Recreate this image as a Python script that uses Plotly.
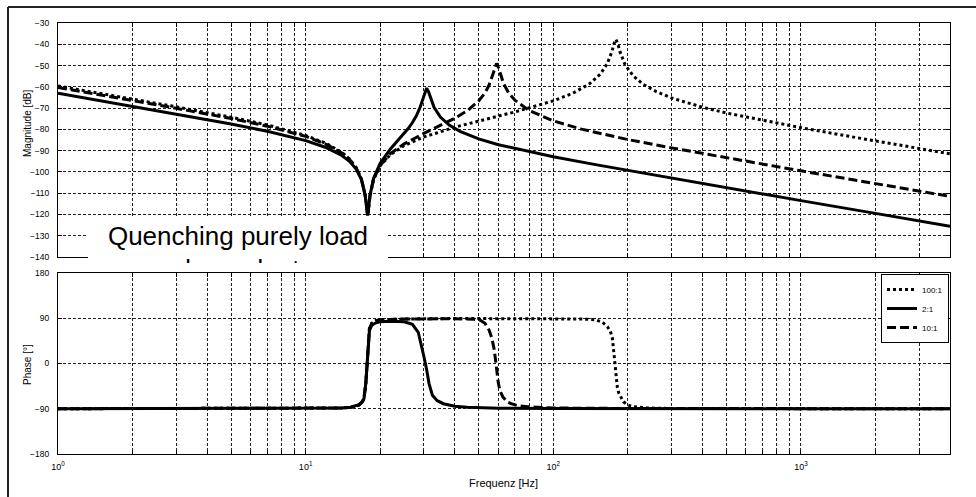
import math
import plotly.graph_objects as go

# ---------------- data ----------------
# Magnitude, ratio 100:1 (dotted)
f_mag_100 = [1, 2, 3, 5, 7, 10, 12, 14, 15, 16, 16.8, 17.4, 17.6, 17.8, 18.0, 18.2, 18.8, 20, 22, 25, 30,
             40, 50, 70, 100, 120, 140, 155, 165, 172, 176, 179, 182, 186, 195, 210, 230, 260, 300, 400,
             500, 700, 1000, 1500, 2000, 3000, 4000]
mag_100 = [-59.6, -65.7, -69.4, -74.3, -77.9, -82.9, -86.4, -90.8, -93.8, -97.9, -103.3, -110.9, -115.9,
           -120.5, -115.9, -111.1, -103.7, -97.1, -91.9, -87.6, -83.6, -79.0, -76.1, -71.8, -66.6, -63.0,
           -58.6, -54.0, -49.2, -43.9, -39.6, -37.7, -39.6, -43.6, -49.6, -54.8, -58.7, -62.2, -65.2, -69.6,
           -72.3, -75.8, -79.2, -82.9, -85.4, -89.0, -91.5]

# Magnitude, ratio 2:1 (solid)
f_mag_2 = [1, 2, 3, 5, 7, 10, 12, 14, 15, 16, 16.8, 17.4, 17.6, 17.8, 18.0, 18.2, 18.8, 20, 22, 23.5, 25,
           26, 27, 28, 29, 29.6, 30.2, 30.8, 31.4, 32, 33, 35, 38, 42, 50, 60, 80, 100, 150, 200, 300,
           500, 1000, 2000, 4000]
mag_2 = [-63.0, -69.1, -72.7, -77.5, -80.9, -85.3, -88.4, -92.3, -94.9, -98.7, -103.6, -111.1, -115.9,
         -120.5, -115.8, -110.9, -103.1, -95.9, -89.2, -85.4, -81.9, -79.5, -76.8, -73.6, -69.6, -66.6,
         -62.9, -60.6, -62.5, -65.6, -69.6, -74.2, -78.0, -80.9, -84.5, -87.2, -90.6, -92.9, -96.7, -99.3,
         -102.9, -107.4, -113.5, -119.5, -125.5]

# Magnitude, ratio 10:1 (dashed)
f_mag_10 = [1, 2, 3, 5, 7, 10, 12, 14, 15, 16, 16.8, 17.4, 17.6, 17.8, 18.0, 18.2, 18.8, 20, 22, 25, 30,
            35, 40, 45, 50, 53, 55, 57, 58, 59, 60, 61, 63, 66, 70, 80, 100, 130, 200, 300, 500, 1000,
            2000, 4000]
mag_10 = [-60.3, -66.4, -70.1, -74.9, -78.5, -83.3, -86.8, -91.1, -94.0, -98.1, -103.4, -111.0, -115.8,
          -120.5, -115.9, -111.0, -103.5, -96.9, -91.4, -86.8, -81.9, -78.3, -74.8, -71.2, -66.6, -62.8,
          -59.3, -54.2, -50.9, -49.0, -50.8, -53.8, -58.5, -62.8, -66.3, -71.2, -76.0, -79.9, -84.8, -88.7,
          -93.4, -99.5, -105.5, -111.5]

# Phase, ratio 100:1
f_ph_100 = [1, 10, 14, 15.2, 16.4, 16.9, 17.2, 17.5, 17.7, 17.85, 18.1, 18.5, 19.2, 20, 25, 40, 100, 130,
            148, 158, 165.5, 170, 173.3, 175.3, 177.1, 179.2, 181.5, 184, 187.2, 192, 199, 210, 240, 300,
            4000]
ph_100 = [-90, -89.5, -88.5, -87, -83, -77, -70, -40, 0, 42, 70, 80, 85, 87, 88.5, 89.5, 89.5, 88.5, 87,
          82, 73, 64, 50, 25, -6, -30, -48, -59, -67, -76, -82, -86, -88.5, -89.5, -90]

# Phase, ratio 2:1
f_ph_2 = [1, 10, 14, 15.2, 16.4, 16.9, 17.2, 17.5, 17.7, 17.85, 18.1, 18.5, 19.2, 20, 22, 25, 27, 28.5,
          29.2, 30, 30.8, 31.5, 32.5, 34, 36, 40, 45, 60, 100, 4000]
ph_2 = [-90, -89.5, -88.5, -87, -82, -76, -70, -39, 0, 40, 66, 76, 81, 83, 84, 83, 78, 62, 42, 15, -12,
        -40, -63, -74, -80, -85, -87, -89, -89.5, -90]

# Phase, ratio 10:1
f_ph_10 = [1, 10, 14, 15.2, 16.4, 16.9, 17.2, 17.5, 17.7, 17.85, 18.1, 18.5, 19.2, 20, 25, 40, 48, 50.7,
           53, 55.1, 56.5, 57.8, 58.8, 60, 61, 62.5, 65, 67.6, 72, 78.9, 100, 200, 4000]
ph_10 = [-90, -89.5, -88.5, -87, -83, -77, -70, -40, 0, 42, 70, 80, 85, 87, 88.5, 89, 88, 86, 80, 66, 50,
         27, -6, -39, -55, -66, -76, -80, -84, -86, -88.5, -89.5, -90]

series_names = ["100:1", "2:1", "10:1"]

# axis ticks
x_major_vals = [1, 10, 100, 1000]
x_major_text = ["10<sup>0</sup>", "10<sup>1</sup>", "10<sup>2</sup>", "10<sup>3</sup>"]
x_minor_vals = [2, 3, 4, 5, 6, 7, 8, 9,
                20, 30, 40, 50, 60, 70, 80, 90,
                200, 300, 400, 500, 600, 700, 800, 900,
                2000, 3000]
mag_ticks = [-140, -130, -120, -110, -100, -90, -80, -70, -60, -50, -40, -30]
phase_ticks = [-180, -90, 0, 90, 180]

# ---------------- layout geometry (pixels) ----------------
W, H = 976, 497
L, R, T, B = 58, 950, 23, 454


def px_x(px):
    return (px - L) / (R - L)


def px_y(py):
    return (B - py) / (B - T)


FONT = "Liberation Sans, Arial, sans-serif"

styles = {
    "100:1": dict(color="black", width=3, dash="3px,3px"),
    "2:1": dict(color="black", width=3, dash="solid"),
    "10:1": dict(color="black", width=3, dash="9px,4px"),
}

fig = go.Figure()

mag_sets = [(f_mag_100, mag_100), (f_mag_2, mag_2), (f_mag_10, mag_10)]
ph_sets = [(f_ph_100, ph_100), (f_ph_2, ph_2), (f_ph_10, ph_10)]

for name, (fx, fy) in zip(series_names, mag_sets):
    fig.add_trace(go.Scatter(x=fx, y=fy, mode="lines", name=name, legendgroup=name,
                             line=styles[name], xaxis="x", yaxis="y", hoverinfo="skip"))
for name, (fx, fy) in zip(series_names, ph_sets):
    fig.add_trace(go.Scatter(x=fx, y=fy, mode="lines", name=name, legendgroup=name, showlegend=False,
                             line=styles[name], xaxis="x2", yaxis="y2", hoverinfo="skip"))

# overlay subplot (x3/y3, pixel-like units: y = 263 - py) holding the text box
box_x = [0, 1, 1, 0, 0]
box_y = [7, 7, 46, 46, 7]
fig.add_trace(go.Scatter(x=box_x, y=box_y, mode="lines", fill="toself", fillcolor="white",
                         line=dict(width=0, color="white"), xaxis="x3", yaxis="y3",
                         showlegend=False, hoverinfo="skip"))
fig.add_trace(go.Scatter(x=[0.5], y=[8], mode="text", text=["Quenching purely load<br>dependent"],
                         textposition="middle center", textfont=dict(family=FONT, size=26, color="black"),
                         xaxis="x3", yaxis="y3", showlegend=False, hoverinfo="skip", cliponaxis=True))

grid = dict(showgrid=True, gridcolor="#222", griddash="3px,2px", gridwidth=1)
axline = dict(showline=True, linecolor="black", linewidth=1.2, mirror="ticks", ticks="inside",
              ticklen=4, tickcolor="black", zeroline=False)
minor = dict(tickvals=x_minor_vals, ticks="inside", ticklen=4, tickcolor="black",
             showgrid=True, gridcolor="#222", griddash="3px,2px", gridwidth=1)
xrange = [0, math.log10(4000)]

fig.update_layout(
    width=W, height=H, autosize=False,
    margin=dict(l=L, r=W - R, t=T, b=H - B, pad=0),
    paper_bgcolor="white", plot_bgcolor="white",
    font=dict(family=FONT, size=9, color="black"),
    xaxis=dict(domain=[0, 1], anchor="y", type="log", range=xrange, tickvals=x_major_vals,
               ticktext=x_major_text, showticklabels=False, minor=minor, **grid, **axline),
    yaxis=dict(domain=[px_y(257), 1], anchor="x", range=[-140, -30], tickvals=mag_ticks,
               tickfont=dict(size=8.5), ticklabelstandoff=6, **grid, **axline),
    xaxis2=dict(domain=[0, 1], anchor="y2", type="log", range=xrange, tickvals=x_major_vals,
                ticktext=x_major_text, tickfont=dict(size=9), ticklabelstandoff=4, minor=minor,
                **grid, **axline),
    yaxis2=dict(domain=[0, px_y(273)], anchor="x2", range=[-180, 180], tickvals=phase_ticks,
                tickfont=dict(size=8.5), ticklabelstandoff=6, **grid, **axline),
    xaxis3=dict(domain=[px_x(88), px_x(388)], anchor="y3", range=[0, 1], visible=False, fixedrange=True),
    yaxis3=dict(domain=[px_y(263), px_y(217)], anchor="x3", range=[0, 46], visible=False, fixedrange=True),
    legend=dict(x=px_x(949), xanchor="right", y=px_y(274), yanchor="top", bgcolor="white",
                bordercolor="black", borderwidth=1, font=dict(family=FONT, size=8),
                itemwidth=30, tracegroupgap=0),
    showlegend=True,
)

# outer frame (top and left edges visible)
fig.add_shape(type="line", xref="paper", yref="paper", x0=px_x(8), x1=px_x(990), y0=px_y(7), y1=px_y(7),
              line=dict(color="#222", width=2), layer="above")
fig.add_shape(type="line", xref="paper", yref="paper", x0=px_x(8), x1=px_x(8), y0=px_y(7), y1=px_y(510),
              line=dict(color="#222", width=2), layer="above")

# axis titles
fig.add_annotation(text="Magnitude [dB]", x=px_x(27), y=px_y(123), xref="paper", yref="paper",
                   xanchor="center", yanchor="middle", showarrow=False, textangle=-90,
                   font=dict(family=FONT, size=10))
fig.add_annotation(text="Phase [°]", x=px_x(27), y=px_y(364), xref="paper", yref="paper",
                   xanchor="center", yanchor="middle", showarrow=False, textangle=-90,
                   font=dict(family=FONT, size=10))
fig.add_annotation(text="Frequenz [Hz]", x=px_x(503), y=px_y(483), xref="paper", yref="paper",
                   xanchor="center", yanchor="middle", showarrow=False, font=dict(family=FONT, size=11))

fig.write_html("out.html")
